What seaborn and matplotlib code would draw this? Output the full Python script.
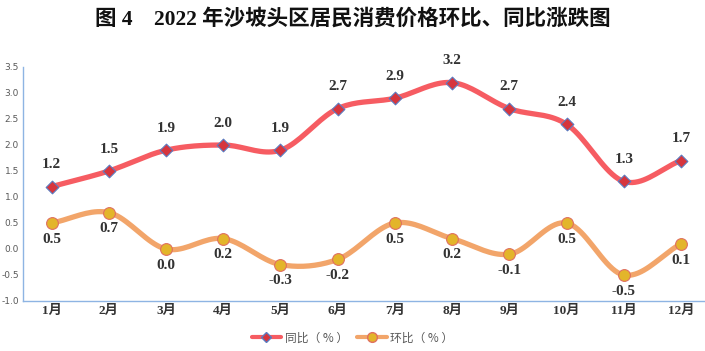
import numpy as np
import pandas as pd
import matplotlib
matplotlib.use("Agg")
import matplotlib.pyplot as plt
import seaborn as sns
from matplotlib.lines import Line2D

months = ["1月", "2月", "3月", "4月", "5月", "6月", "7月", "8月", "9月", "10月", "11月", "12月"]
yoy = [1.2, 1.5, 1.9, 2.0, 1.9, 2.7, 2.9, 3.2, 2.7, 2.4, 1.3, 1.7]
mom = [0.5, 0.7, 0.0, 0.2, -0.3, -0.2, 0.5, 0.2, -0.1, 0.5, -0.5, 0.1]
yticks = [-1.0, -0.5, 0.0, 0.5, 1.0, 1.5, 2.0, 2.5, 3.0, 3.5]

sns.set_theme(style="white")
plt.rcParams["font.family"] = ["Noto Sans CJK SC", "DejaVu Sans"]

df = pd.DataFrame({"month": months, "x": range(len(months)), "yoy": yoy, "mom": mom})


def smooth(xs, ys, n=20):
    xs = np.asarray(xs, float); ys = np.asarray(ys, float)
    px = np.concatenate([[2 * xs[0] - xs[1]], xs, [2 * xs[-1] - xs[-2]]])
    py = np.concatenate([[2 * ys[0] - ys[1]], ys, [2 * ys[-1] - ys[-2]]])
    ox, oy = [], []
    t = np.linspace(0, 1, n, endpoint=False)
    for i in range(1, len(px) - 2):
        for p, o in ((px, ox), (py, oy)):
            p0, p1, p2, p3 = p[i - 1], p[i], p[i + 1], p[i + 2]
            o.extend(0.5 * ((2 * p1) + (-p0 + p2) * t + (2 * p0 - 5 * p1 + 4 * p2 - p3) * t ** 2
                            + (-p0 + 3 * p1 - 3 * p2 + p3) * t ** 3))
    ox.append(xs[-1]); oy.append(ys[-1])
    return np.array(ox), np.array(oy)


fig = plt.figure(figsize=(7.05, 3.51), dpi=100)
ax = fig.add_axes([23 / 705, 1 - 301 / 351, 1 - 23 / 705, 234 / 351])

red_line = "#F65C62"
red_mk = "#D6353D"
or_line = "#F2A56A"
gold = "#E3B52A"

sx, sy = smooth(df["x"], df["yoy"])
ax.plot(sx, sy, color=red_line, lw=3.8, solid_capstyle="round", zorder=2)
sx2, sy2 = smooth(df["x"], df["mom"])
ax.plot(sx2, sy2, color=or_line, lw=3.8, solid_capstyle="round", zorder=2)

sns.scatterplot(data=df, x="x", y="yoy", ax=ax, marker="D", s=42, color=red_mk,
                edgecolor="#5B7BC0", linewidth=0.8, zorder=3, legend=False)
sns.scatterplot(data=df, x="x", y="mom", ax=ax, marker="o", s=72, color=gold,
                edgecolor="#E07060", linewidth=0.8, zorder=3, legend=False)

lab_font = dict(family=["Liberation Serif", "DejaVu Serif"], weight="bold", size=11, color="#333333")
for i, v in enumerate(yoy):
    ax.annotate(f"{v:.1f}", (i, v), xytext=(0, 11), textcoords="offset points",
                ha="center", va="bottom", **lab_font)
for i, v in enumerate(mom):
    ax.annotate(f"{v:.1f}", (i, v), xytext=(0, -7), textcoords="offset points",
                ha="center", va="top", **lab_font)

ax.set_xlim(-0.5, 11.42)
ax.set_ylim(-1.0, 3.5)
ax.set_yticks(yticks)
ax.set_yticklabels([f"{t:.1f}" for t in yticks], fontsize=6.5, color="#595959",
                   family=["DejaVu Sans"])
ax.set_xticks(range(len(months)))
ax.set_xticklabels(months, family=["Liberation Serif", "Noto Sans CJK SC"], weight="bold",
                   fontsize=9.5, color="#333333")
ax.tick_params(axis="both", length=0, pad=3)
ax.set_xlabel("")
ax.set_ylabel("")
for s in ["top", "right"]:
    ax.spines[s].set_visible(False)
for s in ["left", "bottom"]:
    ax.spines[s].set_color("#8EB4E3")
    ax.spines[s].set_linewidth(1.0)
ax.grid(False)

handles = [
    Line2D([0], [0], color=red_line, lw=3, marker="D", markersize=5, markerfacecolor=red_mk,
           markeredgecolor="#5B7BC0"),
    Line2D([0], [0], color=or_line, lw=3, marker="o", markersize=7, markerfacecolor=gold,
           markeredgecolor="#E07060"),
]
fig.legend(handles, ["同比（ % ）", "环比（ % ）"], loc="center", bbox_to_anchor=(0.5, 1 - 338 / 351),
           ncol=2, frameon=False, fontsize=8.5, labelcolor="#595959", handlelength=2.5,
           columnspacing=0.8, handletextpad=0.3)

fig.text(0.5, 1 - 19 / 351, "图 4    2022 年沙坡头区居民消费价格环比、同比涨跌图",
         ha="center", va="center", fontsize=15.5, weight="bold",
         family=["Liberation Serif", "Noto Sans CJK SC"], color="#111111")

fig.savefig("out.png", dpi=100)
